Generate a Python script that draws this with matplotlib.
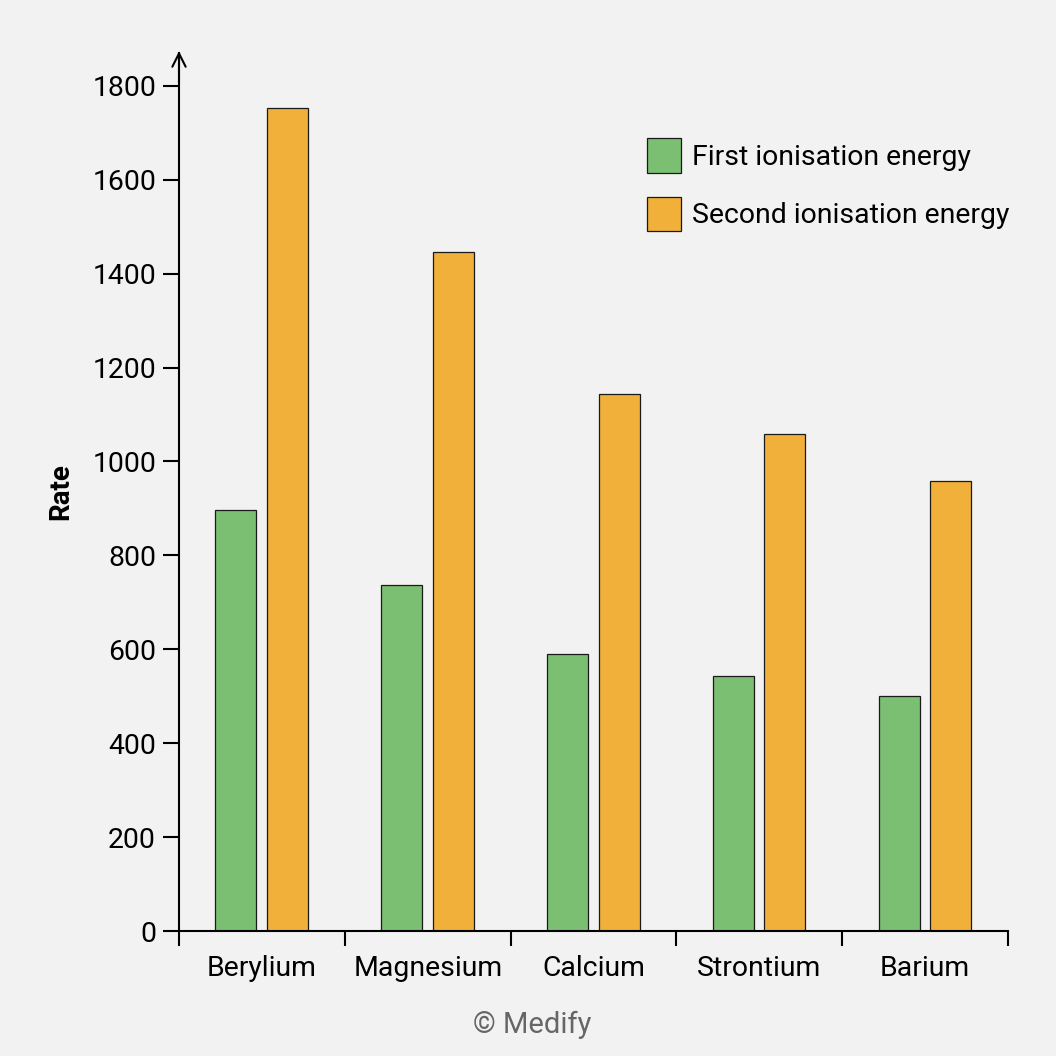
import matplotlib
matplotlib.use("Agg")
import matplotlib.pyplot as plt
import numpy as np

plt.rcParams['font.family'] = ['Roboto', 'DejaVu Sans']

elements = ["Berylium", "Magnesium", "Calcium", "Strontium", "Barium"]
first_ie = [897, 737, 590, 543, 501]
second_ie = [1753, 1446, 1144, 1059, 959]
series_labels = ["First ionisation energy", "Second ionisation energy"]
y_ticks = [0, 200, 400, 600, 800, 1000, 1200, 1400, 1600, 1800]

bg = "#f2f2f2"
green = "#7bbf72"
orange = "#f0b03a"
fs = 20.4

fig = plt.figure(figsize=(10.56, 10.56), dpi=100, facecolor=bg)
ax = fig.add_axes([179/1056, 1-931/1056, (1008-179)/1056, (931-53)/1056])
ax.set_facecolor(bg)

x = np.arange(len(elements))
w = 0.247
ax.bar(x - 0.157, first_ie, w, color=green, edgecolor="#1a1a1a", linewidth=0.9, label=series_labels[0])
ax.bar(x + 0.154, second_ie, w, color=orange, edgecolor="#1a1a1a", linewidth=0.9, label=series_labels[1])

ax.set_xlim(-0.5, len(elements) - 0.5)
ax.set_ylim(0, 1870)

for s in ["top", "right"]:
    ax.spines[s].set_visible(False)
for s in ["left", "bottom"]:
    ax.spines[s].set_linewidth(1.5)
    ax.spines[s].set_color("black")

ax.set_yticks(y_ticks)
ax.set_yticklabels([str(v) for v in y_ticks], fontsize=fs)
ax.tick_params(axis="y", length=11.5, width=1.5, pad=5)

ax.set_xticks(np.arange(-0.5, len(elements)), minor=False)
ax.set_xticklabels([])
ax.tick_params(axis="x", which="major", length=11, width=1.5)
ax.set_xticks(x, minor=True)
ax.set_xticklabels(elements, minor=True, fontsize=fs)
ax.tick_params(axis="x", which="minor", length=0, pad=17)

ax.set_ylabel("Rate", fontsize=20, fontweight="bold", labelpad=13)

# arrow at top of y-axis
ax.annotate("", xy=(-0.5, 1880), xytext=(-0.5, 1800), xycoords="data",
            arrowprops=dict(arrowstyle="->", lw=1.5, color="black", mutation_scale=24),
            annotation_clip=False)

ax.legend(loc="upper left", bbox_to_anchor=(647/1056, 1-138/1056),
          bbox_transform=fig.transFigure, frameon=False, fontsize=fs,
          handlelength=1.2, handleheight=1.5, handletextpad=0.4,
          labelspacing=0.85, borderpad=0, borderaxespad=0)

fig.text(0.504, 1-1025/1056, "© Medify", ha="center", va="center", fontsize=21, color="#666666")

fig.savefig("out.png", dpi=100, facecolor=bg)
